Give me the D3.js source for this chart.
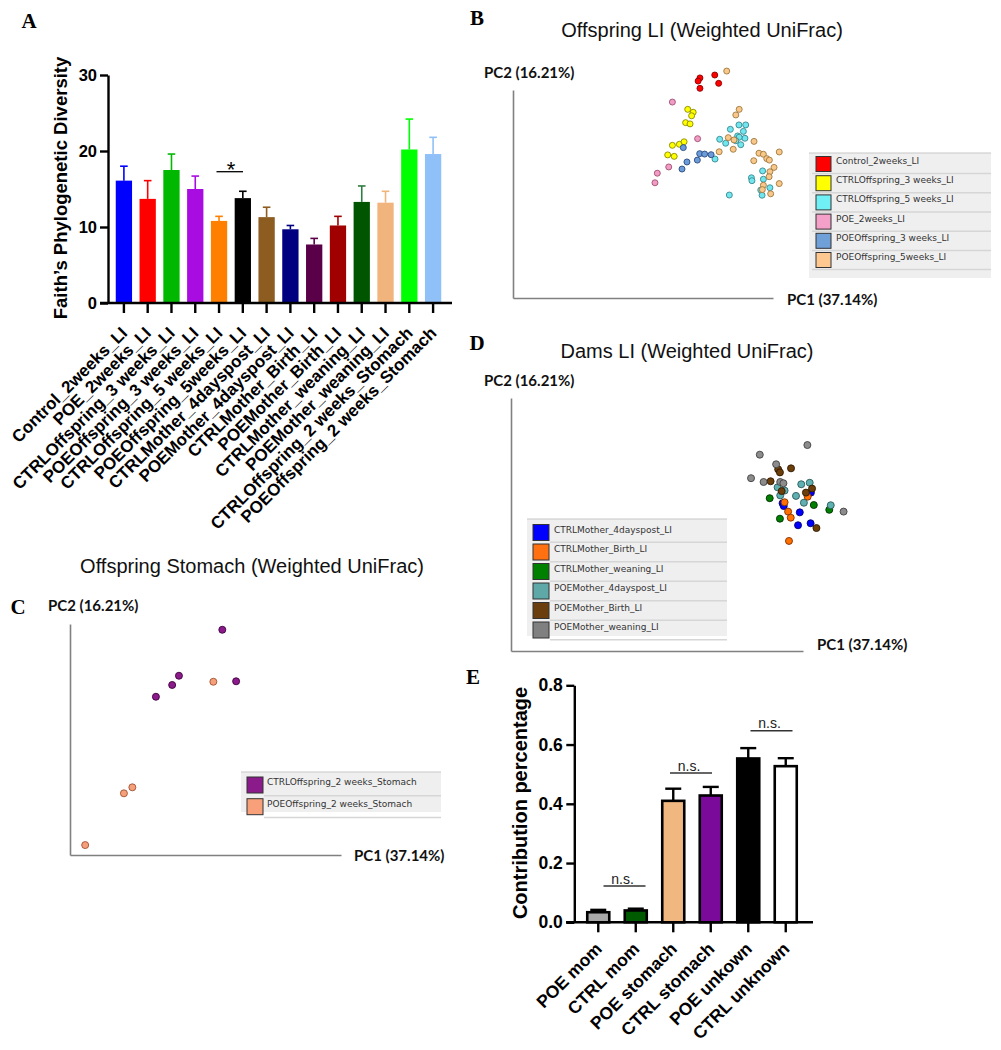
<!DOCTYPE html>
<html><head><meta charset="utf-8">
<script src="https://cdn.jsdelivr.net/npm/d3@7"></script>
<style>body{margin:0;background:#fff} svg{display:block}</style>
</head><body><svg id="c" width="1001" height="1050"></svg>
<script>
// ---------- DATA ----------
const catsA = ["Control_2weeks_LI","POE_2weeks_LI","CTRLOffspring_3 weeks_LI","POEOffspring_3 weeks_LI","CTRLOffspring_5 weeks_LI","POEOffspring_5weeks_LI","CTRLMother_4dayspost_LI","POEMother_4dayspost_LI","CTRLMother_Birth_LI","POEMother_Birth_LI","CTRLMother_weaning_LI","POEMother_weaning_LI","CTRLOffspring_2 weeks_Stomach","POEOffspring_2 weeks_Stomach"];
const valsA = [16.1,13.7,17.5,15.0,10.8,13.8,11.3,9.7,7.7,10.2,13.3,13.2,20.2,19.6];
const errA  = [18.0,16.1,19.6,16.7,11.4,14.7,12.6,10.2,8.5,11.4,15.4,14.7,24.2,21.8];
const ticksA = [0,10,20,30];

const catsE = ["POE mom","CTRL mom","POE stomach","CTRL stomach","POE unkown","CTRL unknown"];
const valsE = [0.034,0.040,0.410,0.428,0.553,0.527];
const errE  = [0.042,0.046,0.451,0.457,0.588,0.554];
const ticksE = [0,0.2,0.4,0.6,0.8];

// PCoA scores (arbitrary units, 0-100 along drawn axes)
const bControl2w = [[71.9,105.8],[71.2,104.3],[77.6,107.2],[79.1,103.2],[71.9,100.8]];
const bCtrl3w = [[67.2,90.7],[69.3,89.3],[68.7,87.6],[66.4,84.3],[68.1,83.7],[61.3,73.4],[64.0,73.9],[65.8,75.1],[59.5,68.8],[62.0,68.1]];
const bCtrl5w = [[86.9,83.2],[89.5,83.2],[83.6,81.1],[88.6,80.1],[89.2,76.8],[79.5,76.3],[86.4,77.9],[87.0,77.3],[85.7,75.6],[81.8,74.4],[87.6,73.7],[77.7,66.8],[96.0,61.1],[91.7,57.8],[91.9,56.4],[96.3,57.1],[98.8,53.0],[95.3,51.9],[95.8,49.4],[83.2,49.5]];
const bPoe2w = [[61.3,94.2],[71.0,76.6],[59.9,63.0],[55.5,60.0],[54.6,55.4]];
const bPoe3w = [[65.5,72.3],[71.8,69.4],[73.7,69.2],[76.2,68.9],[66.9,65.4],[70.9,66.3],[65.0,62.0]];
const bPoe5w = [[82.2,109.1],[87.0,90.7],[85.7,88.0],[82.8,77.1],[85.0,76.0],[92.7,75.3],[79.3,70.3],[84.7,71.5],[94.6,69.6],[96.3,69.1],[97.6,67.0],[98.6,66.3],[92.6,66.0],[102.4,70.2],[100.4,62.8],[98.8,60.7],[98.5,58.3],[102.4,55.0],[96.3,54.2],[95.9,52.1],[99.1,50.1]];
const legendB = ["Control_2weeks_LI","CTRLOffspring_3 weeks_LI","CTRLOffspring_5 weeks_LI","POE_2weeks_LI","POEOffspring_3 weeks_LI","POEOffspring_5weeks_LI"];

const dCtrl4d = [[93.0,58.4],[93.4,57.3],[98.9,54.8],[98.3,49.7],[102.6,50.5],[102.7,62.6]];
const dCtrlBirth = [[93.7,58.8],[94.9,55.1],[95.8,52.7],[101.6,61.0],[95.2,43.5]];
const dCtrlWean = [[88.6,60.4],[103.7,57.7],[109.0,55.8],[92.1,52.3]];
const dPoe4d = [[91.3,64.7],[93.7,63.4],[99.4,65.9],[102.3,66.5],[92.2,61.5],[97.6,61.3],[100.3,58.6],[109.5,57.6]];
const dPoeBirth = [[95.9,72.2],[91.5,71.8],[92.1,70.6],[88.9,67.1],[92.7,63.2],[101.0,62.6],[103.1,64.2],[104.6,48.6]];
const dPoeWean = [[101.5,81.4],[85.2,77.6],[90.8,73.8],[82.2,68.3],[86.5,66.8],[92.2,66.8],[93.3,66.3],[113.9,55.1]];
const legendD = ["CTRLMother_4dayspost_LI","CTRLMother_Birth_LI","CTRLMother_weaning_LI","POEMother_4dayspost_LI","POEMother_Birth_LI","POEMother_weaning_LI"];

const cCtrlStom = [[56.2,97.5],[40.2,77.6],[37.7,73.6],[31.7,68.5],[61.3,75.2]];
const cPoeStom = [[52.9,75.0],[23.0,29.3],[19.9,26.7],[5.6,4.3]];
const legendC = ["CTRLOffspring_2 weeks_Stomach","POEOffspring_2 weeks_Stomach"];

// ---------- STYLE ----------
const colA = ["#0000ff","#ff0000","#00b800","#a80ce0","#ff8000","#000000","#8c5c20","#000080","#5a0048","#a00000","#005500","#f0b47c","#00ff00","#90c0f8"];
const errColA = ["#0000ff","#ff0000","#00b800","#a80ce0","#ff8000","#000000","#8c5c20","#000080","#5a0048","#a00000","#2e7d42","#f0b47c","#00ff00","#90c0f8"];
const colE = ["#a8a8a8","#005a00","#f0b880","#7a0a9a","#000000","#ffffff"];
const SANS = "'Liberation Sans', Arial, sans-serif";
const SERIF = "'Liberation Serif', 'Times New Roman', serif";
const CAL = "Lato, 'Open Sans', sans-serif";
const LEG = "'DejaVu Sans', Verdana, sans-serif";

const svg = d3.select("#c");

// panel letters
[["A",29,28],["B",477,25],["C",18,614],["D",477,350],["E",473,684]].forEach(([t,x,y])=>{
  svg.append("text").attr("x",x).attr("y",y).attr("text-anchor","middle")
    .attr("font-family",SERIF).attr("font-weight","bold").attr("font-size",21).text(t);
});

// ---------- PANEL A ----------
{
  const g = svg.append("g");
  const x = d3.scaleBand().domain(catsA).range([111,446]).paddingInner(0.315).paddingOuter(0.2);
  const y = d3.scaleLinear().domain([0,30]).range([303,75]);
  const bw = x.bandwidth();
  g.selectAll("rect.bar").data(catsA).join("rect")
    .attr("x",d=>x(d)).attr("width",bw)
    .attr("y",(d,i)=>y(valsA[i])).attr("height",(d,i)=>y(0)-y(valsA[i]))
    .attr("fill",(d,i)=>colA[i]);
  const eb = g.selectAll("g.eb").data(catsA).join("g");
  eb.append("line").attr("x1",d=>x(d)+bw/2).attr("x2",d=>x(d)+bw/2)
    .attr("y1",(d,i)=>y(valsA[i])).attr("y2",(d,i)=>y(errA[i]))
    .attr("stroke",(d,i)=>errColA[i]).attr("stroke-width",1.6);
  eb.append("line").attr("x1",d=>x(d)+bw/2-3.8).attr("x2",d=>x(d)+bw/2+3.8)
    .attr("y1",(d,i)=>y(errA[i])).attr("y2",(d,i)=>y(errA[i]))
    .attr("stroke",(d,i)=>errColA[i]).attr("stroke-width",1.6);

  const ya = g.append("g").attr("transform","translate(108,0)")
    .call(d3.axisLeft(y).tickValues(ticksA).tickSize(8).tickSizeOuter(0).tickPadding(3));
  ya.selectAll("path,line").attr("stroke","#000").attr("stroke-width",2.4);
  ya.selectAll("text").attr("font-family",SANS).attr("font-weight","bold").attr("font-size",16.5).attr("fill","#000");

  const xa = g.append("g").attr("transform","translate(0,303)")
    .call(d3.axisBottom(x).tickSize(10).tickSizeOuter(0).tickFormat(""));
  xa.select(".domain").remove();
  xa.selectAll("line").attr("stroke","#000").attr("stroke-width",2.4);
  g.append("line").attr("x1",100).attr("x2",452).attr("y1",303).attr("y2",303).attr("stroke","#000").attr("stroke-width",2.4);

  g.selectAll("text.xl").data(catsA).join("text")
    .attr("transform",d=>`translate(${x(d)+bw/2-4.2},325.4) rotate(-45)`)
    .attr("text-anchor","end").attr("dy","0.72em")
    .attr("font-family",SANS).attr("font-weight","bold").attr("font-size",17).text(d=>d);

  g.append("text").attr("transform","translate(67,188) rotate(-90)").attr("text-anchor","middle")
    .attr("font-family",SANS).attr("font-weight","bold").attr("font-size",18.5)
    .text("Faith’s Phylogenetic Diversity");

  // significance
  g.append("line").attr("x1",216.5).attr("x2",243).attr("y1",171.7).attr("y2",171.7).attr("stroke","#000").attr("stroke-width",1.3);
  g.append("text").attr("x",231).attr("y",177).attr("text-anchor","middle")
    .attr("font-family",SANS).attr("font-size",22).text("*");
}

// ---------- PANEL E ----------
{
  const g = svg.append("g");
  const x = d3.scaleBand().domain(catsE).range([576,808]).paddingInner(0.413).paddingOuter(0.3);
  const y = d3.scaleLinear().domain([0,0.8]).range([922.3,685.3]);
  const bw = x.bandwidth();
  const eb = g.selectAll("g.eb").data(catsE).join("g");
  eb.append("line").attr("x1",d=>x(d)+bw/2).attr("x2",d=>x(d)+bw/2)
    .attr("y1",(d,i)=>y(valsE[i])).attr("y2",(d,i)=>y(errE[i])).attr("stroke","#000").attr("stroke-width",2.4);
  eb.append("line").attr("x1",d=>x(d)+bw/2-8).attr("x2",d=>x(d)+bw/2+8)
    .attr("y1",(d,i)=>y(errE[i])).attr("y2",(d,i)=>y(errE[i])).attr("stroke","#000").attr("stroke-width",2.4);
  g.selectAll("rect.bar").data(catsE).join("rect")
    .attr("x",d=>x(d)).attr("width",bw)
    .attr("y",(d,i)=>y(valsE[i])).attr("height",(d,i)=>y(0)-y(valsE[i]))
    .attr("fill",(d,i)=>colE[i]).attr("stroke","#000").attr("stroke-width",2.6);

  const ya = g.append("g").attr("transform","translate(574.3,0)")
    .call(d3.axisLeft(y).tickValues(ticksE).tickFormat(d3.format(".1f")).tickSize(8).tickSizeOuter(0).tickPadding(3.5));
  ya.selectAll("path,line").attr("stroke","#000").attr("stroke-width",2.4);
  ya.selectAll("text").attr("font-family",SANS).attr("font-weight","bold").attr("font-size",17.5).attr("fill","#000");

  const xa = g.append("g").attr("transform","translate(0,922.3)")
    .call(d3.axisBottom(x).tickSize(10).tickSizeOuter(0).tickFormat(""));
  xa.select(".domain").remove();
  xa.selectAll("line").attr("stroke","#000").attr("stroke-width",2.4);
  g.append("line").attr("x1",566).attr("x2",813).attr("y1",922.3).attr("y2",922.3).attr("stroke","#000").attr("stroke-width",2.4);

  g.selectAll("text.xl").data(catsE).join("text")
    .attr("transform",d=>`translate(${x(d)+bw/2-4.2},941) rotate(-45)`)
    .attr("text-anchor","end").attr("dy","0.72em")
    .attr("font-family",SANS).attr("font-weight","bold").attr("font-size",17.5).text(d=>d);

  g.append("text").attr("transform","translate(527,803) rotate(-90)").attr("text-anchor","middle")
    .attr("font-family",SANS).attr("font-weight","bold").attr("font-size",20)
    .text("Contribution percentage");

  // n.s. brackets: [pair, y, centre shift]
  [[[0,1],886,7.5],[[2,3],773,-1],[[4,5],730.7,4.5]].forEach(([[a,b],yy,sh])=>{
    const mid = (x(catsE[a])+x(catsE[b]))/2+bw/2+sh;
    g.append("line").attr("x1",mid-21).attr("x2",mid+21)
      .attr("y1",yy).attr("y2",yy).attr("stroke","#333").attr("stroke-width",1.4);
    g.append("text").attr("x",mid-2).attr("y",yy-2.5)
      .attr("text-anchor","middle").attr("font-family",SANS).attr("font-size",14).attr("fill","#222").text("n.s.");
  });
}

// ---------- PCoA panels ----------
function pcoa(o){
  const g = svg.append("g");
  const x = d3.scaleLinear().domain([0,100]).range([o.x0,o.x1]);
  const y = d3.scaleLinear().domain([0,100]).range([o.yb,o.yt]);
  g.append("g").attr("transform",`translate(${o.x0},0)`).call(d3.axisLeft(y).tickValues([]).tickSizeOuter(0))
    .select(".domain").attr("stroke","#808080").attr("stroke-width",1.6);
  g.append("g").attr("transform",`translate(0,${o.yb})`).call(d3.axisBottom(x).tickValues([]).tickSizeOuter(0))
    .select(".domain").attr("stroke","#808080").attr("stroke-width",1.6);
  g.append("text").attr("x",o.title[0]).attr("y",o.title[1]).attr("text-anchor","middle")
    .attr("font-family",SANS).attr("font-size",20).attr("fill","#111").text(o.titleText);
  g.append("text").attr("x",o.pc2[0]).attr("y",o.pc2[1]).attr("font-family",CAL).attr("font-weight","bold")
    .attr("font-size",15).attr("fill","#111").text("PC2 (16.21%)");
  g.append("text").attr("x",o.pc1[0]).attr("y",o.pc1[1]).attr("font-family",CAL).attr("font-weight","bold")
    .attr("font-size",15).attr("fill","#111").text("PC1 (37.14%)");

  // legend
  const L = o.legend;
  g.append("rect").attr("x",L.x0).attr("y",L.y0).attr("width",L.x1-L.x0).attr("height",L.y1-L.y0).attr("fill","#efefef");
  g.append("line").attr("x1",L.x0).attr("x2",L.x1).attr("y1",L.y0).attr("y2",L.y0).attr("stroke","#c8c8c8").attr("stroke-width",1.2);
  o.groups.forEach((gr,i)=>{
    const cy = L.r0 + i*L.step;
    if(i>0 && L.sep) g.append("line").attr("x1",L.sx).attr("x2",L.x1).attr("y1",cy-L.step/2).attr("y2",cy-L.step/2)
      .attr("stroke","#d6d6d6").attr("stroke-width",1.5);
    g.append("rect").attr("x",L.swX).attr("y",cy-L.sw/2).attr("width",L.sw).attr("height",L.sw)
      .attr("fill",gr.sw).attr("stroke","#333").attr("stroke-width",1);
    g.append("text").attr("x",L.txX).attr("y",cy).attr("font-family",LEG).attr("font-size",9)
      .attr("fill","#333").text(gr.label);
  });
  if(L.sep) g.append("line").attr("x1",L.sx).attr("x2",L.x1).attr("y1",L.r0+(o.groups.length-0.5)*L.step).attr("y2",L.r0+(o.groups.length-0.5)*L.step)
      .attr("stroke","#d6d6d6").attr("stroke-width",1.5);

  o.groups.forEach(gr=>{
    g.selectAll(null).data(gr.pts).join("circle")
      .attr("cx",d=>x(d[0])).attr("cy",d=>y(d[1])).attr("r",o.r)
      .attr("fill",gr.fill).attr("stroke",gr.stroke).attr("stroke-width",0.9);
  });
}

pcoa({
  x0:513, x1:773, yb:298, yt:90, r:3.0,
  titleText:"Offspring LI (Weighted UniFrac)", title:[702,37], pc2:[484,78], pc1:[787,305],
  legend:{x0:809,x1:991,y0:153,y1:278,r0:164,step:19.2,sw:15,swX:816,txX:836,sx:812,sep:true},
  groups:[
    {pts:bControl2w, fill:"#ff0000", stroke:"#8a0000", sw:"#ff0000", label:legendB[0]},
    {pts:bCtrl3w, fill:"#ffff00", stroke:"#8a8a00", sw:"#ffff00", label:legendB[1]},
    {pts:bCtrl5w, fill:"#72e6ee", stroke:"#3a8890", sw:"#70f0f4", label:legendB[2]},
    {pts:bPoe2w, fill:"#f09cc6", stroke:"#a0506e", sw:"#f4a0c8", label:legendB[3]},
    {pts:bPoe3w, fill:"#6b9bd8", stroke:"#2a4a80", sw:"#70a0d8", label:legendB[4]},
    {pts:bPoe5w, fill:"#f8c88a", stroke:"#a07840", sw:"#ffc890", label:legendB[5]}
  ]
});

pcoa({
  x0:511, x1:803, yb:651, yt:398, r:3.5,
  titleText:"Dams LI (Weighted UniFrac)", title:[687,358], pc2:[484,386], pc1:[817,650],
  legend:{x0:527,x1:727,y0:519,y1:636,r0:532.5,step:19.5,sw:16,swX:533,txX:554,sx:550,sep:true},
  groups:[
    {pts:dCtrl4d, fill:"#0000ff", stroke:"#000070", sw:"#0000ff", label:legendD[0]},
    {pts:dCtrlBirth, fill:"#ff7000", stroke:"#803000", sw:"#ff7010", label:legendD[1]},
    {pts:dCtrlWean, fill:"#008000", stroke:"#003000", sw:"#008000", label:legendD[2]},
    {pts:dPoe4d, fill:"#5fb0b0", stroke:"#2a5858", sw:"#5fa8a8", label:legendD[3]},
    {pts:dPoeBirth, fill:"#6b3e0a", stroke:"#301800", sw:"#6b3e10", label:legendD[4]},
    {pts:dPoeWean, fill:"#8c8c8c", stroke:"#404040", sw:"#808080", label:legendD[5]}
  ]
});

pcoa({
  x0:70, x1:341, yb:855, yt:624, r:3.5,
  titleText:"Offspring Stomach (Weighted UniFrac)", title:[252,573], pc2:[48,611], pc1:[354,861],
  legend:{x0:241,x1:441,y0:772,y1:812,r0:785,step:21.7,sw:16,swX:247,txX:267,sx:264,sep:true},
  groups:[
    {pts:cCtrlStom, fill:"#8b1a8b", stroke:"#400040", sw:"#8b1a8b", label:legendC[0]},
    {pts:cPoeStom, fill:"#f5a07a", stroke:"#a05030", sw:"#f8a07a", label:legendC[1]}
  ]
});
</script></body></html>
